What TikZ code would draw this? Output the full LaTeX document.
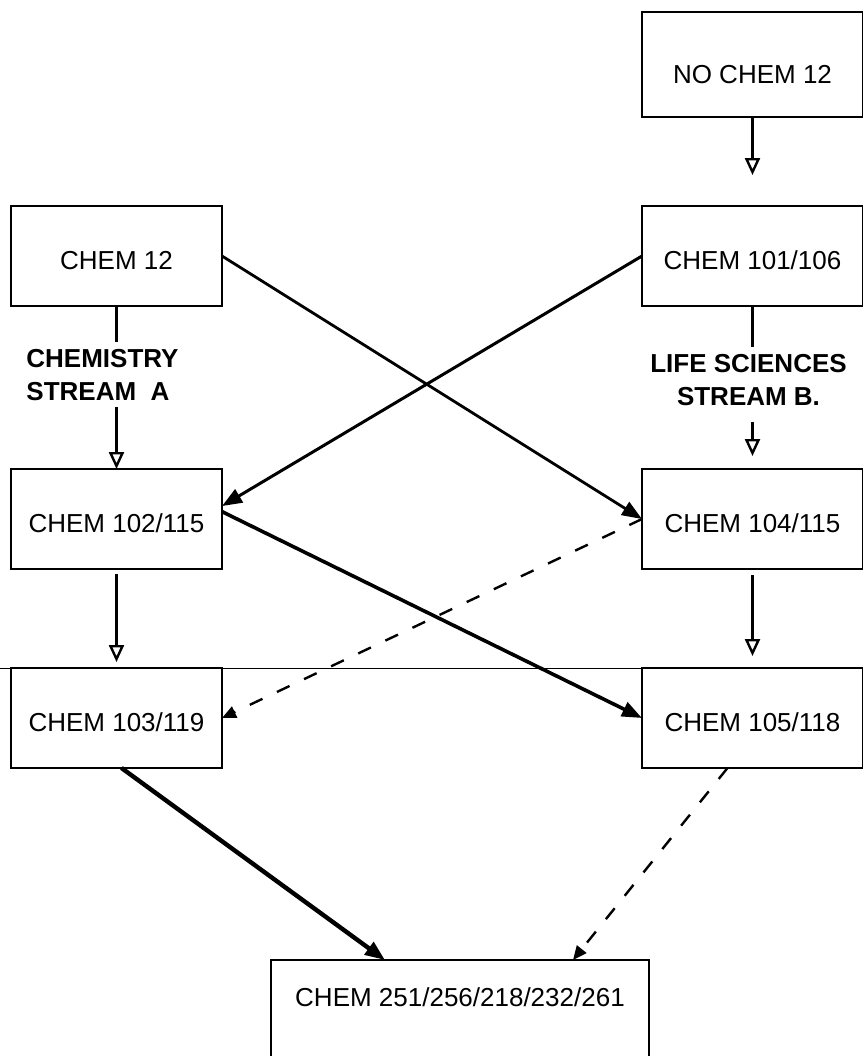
\documentclass[tikz,border=0pt]{standalone}
\usepackage{fontspec}
\setmainfont{Liberation Sans}
\usetikzlibrary{positioning,arrows.meta}

\begin{document}
\begin{tikzpicture}
                \tikzstyle{every node}=[draw, line width=1.2pt, outer sep=0pt, font=\fontsize{13}{16.5}\selectfont]
                \tikzstyle{lcol}=[minimum width=105.5pt, minimum height=50pt, text height=13pt, text depth=0pt]
                \tikzstyle{rcol}=[minimum width=110.5pt, minimum height=50pt, text height=13pt, text depth=0pt]
                \tikzstyle{stream}=[draw=none, font=\fontsize{13}{16.5}\selectfont\bfseries, inner sep=3.5pt]
                \tikzstyle{seq}=[-{Triangle[open, length=8.5pt, width=7.5pt]}, line width=1.2pt]
                \tikzstyle{link}=[-{Triangle[length=10pt, width=7.5pt]}, line width=1.4pt]
                \tikzstyle{opt}=[-{Triangle[length=7pt, width=6pt]}, line width=1.2pt, dash pattern=on 7pt off 8pt]
                \useasboundingbox (0,0) rectangle (431.5pt,-528pt);
                \coordinate (edge) at (0,0);
                \node (no12)    [rcol, minimum height=52.5pt, text height=19pt] at (376.25pt,-32.25pt) {NO CHEM 12};
                \node (c101)    [rcol, below=44.5pt of no12]                            {CHEM 101/106};
                \node (c12)     [lcol, left=210pt of c101]                              {CHEM 12};
                \node (c104)    [rcol, below=81.5pt of c101]                            {CHEM 104/115};
                \node (c102)    [lcol, left=210pt of c104]                              {CHEM 102/115};
                \node (c105)    [rcol, below=49.5pt of c104]                            {CHEM 105/118};
                \node (c103)    [lcol, left=210pt of c105]                              {CHEM 103/119};
                \node (c2xx)    [below right=96pt and 24.5pt of c103, minimum width=189pt, minimum height=56pt, text depth=18.5pt] {CHEM 251/256/218/232/261};
                \node (strA)    [stream, below=18pt of c12, xshift=-7pt, align=left]    {CHEMISTRY\\STREAM~~A};
                \node (strB)    [stream, below=20.5pt of c101, xshift=-2pt, align=center] {LIFE SCIENCES\\STREAM B.};
                \draw[line width=1.2pt] (c12) -- (c12 |- strA.north);
                \draw[seq] (c102 |- strA.south) -- (c102);
                \draw[line width=1.2pt] (c101) -- (c101 |- strB.north);
                \draw[seq, shorten <=5pt, shorten >=6.5pt] (c104 |- strB.south) -- (c104);
                \draw[seq, shorten >=15.5pt] (no12) -- (c101);
                \draw[seq, shorten <=2.5pt, shorten >=3pt] (c102) -- (c103);
                \draw[seq, shorten <=3pt, shorten >=6pt] (c104) -- (c105);
                \draw[link]                     (c12.east)  -- (c104.west);
                \draw[link, line width=1.5pt]   (c101.west) -- (c102.7);
                \draw[link, line width=1.8pt]   (c102.4)    -- (c105.west);
                \draw[opt]                      (c104.west) -- (c103.east);
                \draw[link, line width=2.2pt]   ([xshift=2.5pt]c103.south) -- ([xshift=-37.5pt]c2xx.north);
                \draw[opt]                      ([xshift=-12.5pt]c105.south) -- ([xshift=56.5pt]c2xx.north);
                \draw[line width=0.5pt] (c103.north west -| edge) -- (c105.north west);
\end{tikzpicture}
\end{document}
